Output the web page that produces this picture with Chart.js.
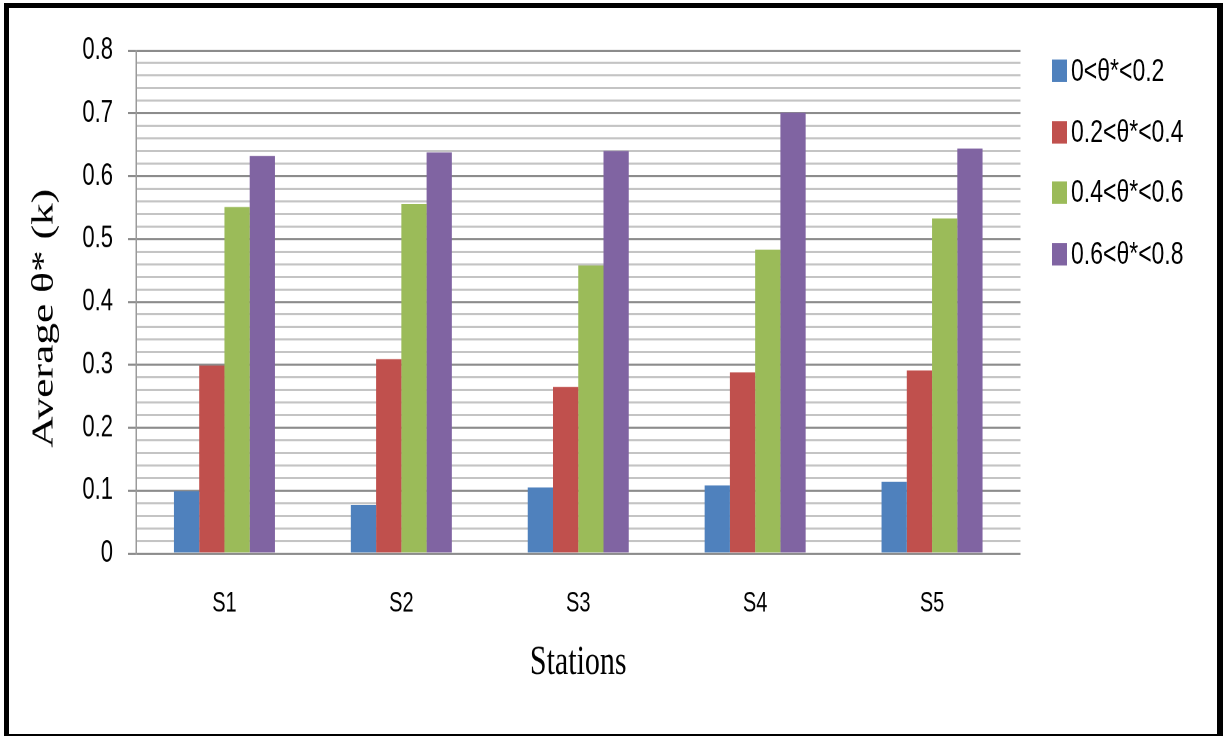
<!DOCTYPE html>
<html>
<head>
<meta charset="utf-8">
<title>Average θ* by station</title>
<script src="https://cdn.jsdelivr.net/npm/chart.js@4/dist/chart.umd.min.js"></script>
<style>
  html, body { margin: 0; padding: 0; background: #fff; overflow: hidden; }
  #page { position: relative; width: 1232px; height: 737px; background: #fff; }
  /* the whole figure is drawn short and stretched tall, like the exported sheet */
  #stretch { position: absolute; left: 0; top: 0; width: 1232px; height: 526px;
             transform: scaleY(1.401); transform-origin: 0 0; }
  #legend { position: absolute; left: 1052px; top: 0;
            font-family: "Liberation Sans", Arial, sans-serif; font-size: 23px; color: #000; }
  .item { position: absolute; left: 0; display: flex; align-items: center;
          white-space: nowrap; transform: translateY(-50%); }
  .swatch { width: 15px; height: 16px; margin-right: 4px; flex: none; }
  #frame { position: absolute; left: 4px; top: 3px; right: 9px; bottom: 1px;
           border: solid #000; border-width: 5px 6px 2px 5px; pointer-events: none; }
</style>
</head>
<body>
<div id="page">
  <div id="stretch">
    <canvas id="chart"></canvas>
    <div id="legend"></div>
  </div>
  <div id="frame"></div>
</div>
<script>
// Stations along x, one bar per θ* band
const stations = ["S1", "S2", "S3", "S4", "S5"];
const bandLabels = ["0<θ*<0.2", "0.2<θ*<0.4", "0.4<θ*<0.6", "0.6<θ*<0.8"];
const bandColors = ["#4F81BD", "#C0504D", "#9BBB59", "#8064A2"];

const band1 = [0.099, 0.077, 0.105, 0.108, 0.114];
const band2 = [0.299, 0.309, 0.265, 0.288, 0.291];
const band3 = [0.551, 0.556, 0.458, 0.483, 0.533];
const band4 = [0.632, 0.638, 0.640, 0.701, 0.644];

const yMax = 0.8;
const majorStep = 0.1;
const minorStep = 0.02;

const bands = [band1, band2, band3, band4];
const isMajor = v => Math.abs(v / majorStep - Math.round(v / majorStep)) < 1e-6;

// simple legend on the right, same order as the datasets
const legend = document.getElementById("legend");
const rowY = [50, 94, 137, 181];
bandLabels.forEach((label, i) => {
  const row = document.createElement("div");
  row.className = "item";
  row.style.top = rowY[i] + "px";
  row.innerHTML = `<span class="swatch" style="background:${bandColors[i]}"></span><span>${label}</span>`;
  legend.appendChild(row);
});

new Chart(document.getElementById("chart"), {
  type: "bar",
  data: {
    labels: stations,
    datasets: bands.map((vals, i) => ({
      label: bandLabels[i],
      data: vals,
      backgroundColor: bandColors[i],
      borderWidth: 0,
      barPercentage: 1.0,
      categoryPercentage: 0.571,
    })),
  },
  options: {
    responsive: true,
    maintainAspectRatio: false,
    devicePixelRatio: 2,
    animation: false,
    layout: { padding: { left: 12, right: 211.5, top: 36, bottom: 10 } },
    plugins: { legend: { display: false }, tooltip: { enabled: false } },
    scales: {
      x: {
        grid: { display: false, drawTicks: false },
        border: { display: false },
        ticks: { color: "#000", padding: 24, font: { family: "Liberation Sans", size: 20 } },
        title: {
          display: true, text: "Stations", color: "#000",
          padding: { top: 0, bottom: 25 },
          font: { family: "Liberation Serif", size: 30, weight: "normal" },
        },
        afterFit: s => { s.height = 121; },
      },
      y: {
        min: 0, max: yMax,
        grid: {
          color: c => isMajor(c.tick.value) ? "#8c8c8c" : "#c4c4c4",
          tickColor: c => isMajor(c.tick.value) ? "#8c8c8c" : "rgba(0,0,0,0)",
          lineWidth: 1.5,
          tickLength: 8,
        },
        border: { display: true, color: "#9a9a9a", width: 1.5 },
        ticks: {
          stepSize: minorStep,
          autoSkip: false,
          padding: 15,
          color: "#000",
          font: { family: "Liberation Sans", size: 22 },
          callback: v => isMajor(v) ? String(Math.round(v * 10) / 10) : "",
        },
        title: {
          display: true,
          // trailing spaces nudge the rotated title a little below the axis middle
          text: "Average θ* (k)   ",
          color: "#000",
          padding: { top: 14, bottom: 0 },
          font: { family: "Liberation Serif", size: 31, weight: 400 },
        },
        afterFit: s => { s.width = 124; },
      },
    },
  },
});
</script>
</body>
</html>
